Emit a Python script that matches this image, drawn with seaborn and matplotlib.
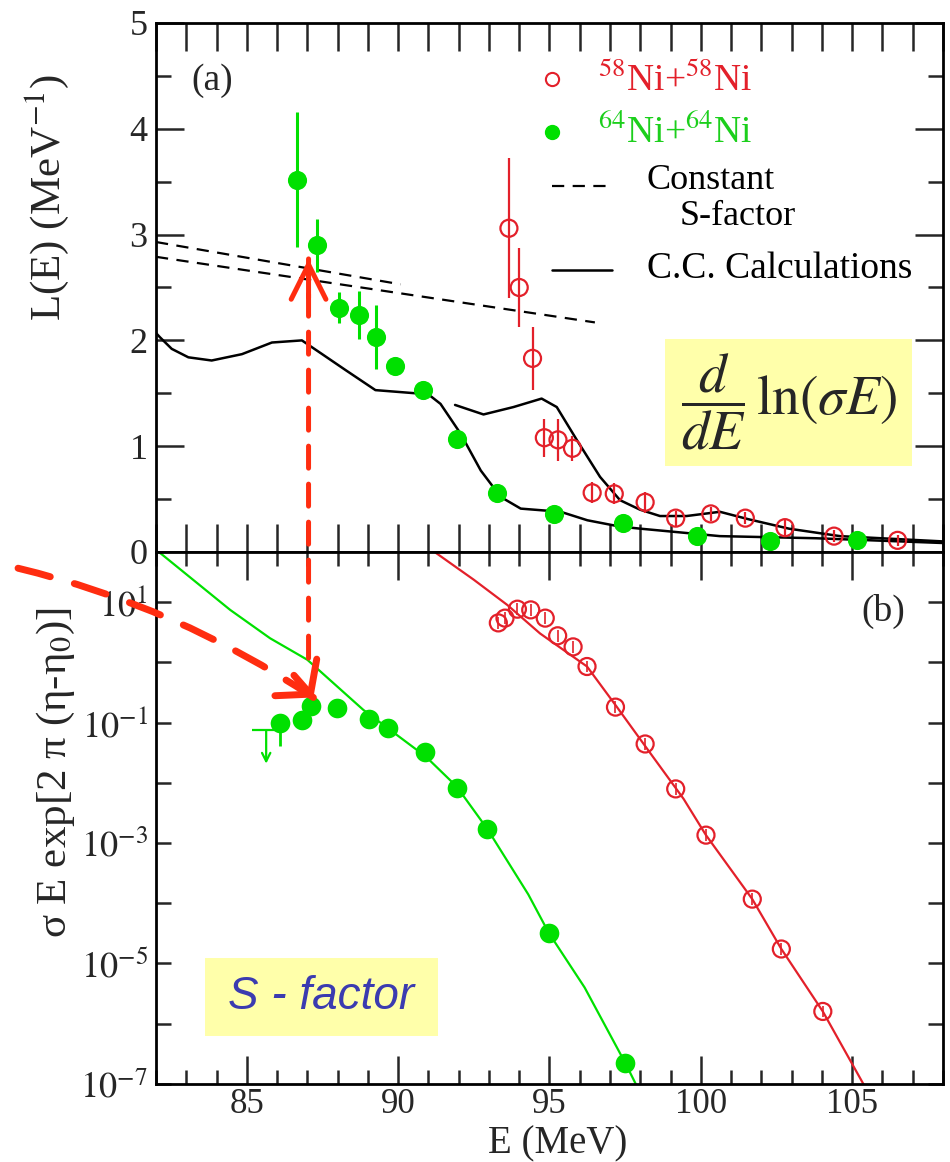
import math
import matplotlib
matplotlib.use("Agg")
import matplotlib.pyplot as plt
import seaborn as sns
from matplotlib.patches import Rectangle, ConnectionPatch
from matplotlib.ticker import MultipleLocator, FixedLocator, FuncFormatter, NullLocator

# ---------------- (a) logarithmic derivative L(E) ----------------
ni64_E_a = [86.67, 87.32, 88.04, 88.70, 89.27, 89.91, 90.83, 91.93, 93.28, 95.15, 97.43, 99.88, 102.30, 105.17]
ni64_L_a = [3.52, 2.90, 2.31, 2.24, 2.03, 1.76, 1.53, 1.07, 0.56, 0.36, 0.27, 0.15, 0.10, 0.11]
ni64_err_a = [0.64, 0.25, 0.15, 0.23, 0.30, 0.08, 0.06, 0.06, 0.05, 0.05, 0.04, 0.04, 0.04, 0.04]

ni58_E_a = [93.66, 94.00, 94.44, 94.83, 95.28, 95.76, 96.41, 97.14, 98.16, 99.17, 100.33, 101.47, 102.78, 104.40, 106.50]
ni58_L_a = [3.06, 2.50, 1.83, 1.08, 1.06, 0.98, 0.56, 0.55, 0.47, 0.32, 0.36, 0.32, 0.23, 0.15, 0.11]
ni58_err_a = [0.66, 0.37, 0.30, 0.18, 0.20, 0.12, 0.10, 0.10, 0.10, 0.07, 0.07, 0.06, 0.07, 0.06, 0.05]

# constant S-factor lines
const_E_upper = [82.0, 90.08]
const_L_upper = [2.93, 2.53]
const_E_lower = [82.0, 96.5]
const_L_lower = [2.79, 2.17]

# coupled-channels calculations
cc64_E = [82.0, 82.13, 82.52, 83.07, 83.84, 84.84, 85.83, 86.82, 87.49, 88.26, 89.25, 90.58, 90.91,
          91.40, 92.06, 92.73, 93.39, 94.05, 95.37, 96.25, 97.33, 98.02, 100.63, 103.8, 108.0]
cc64_L = [2.07, 2.03, 1.92, 1.84, 1.81, 1.87, 1.98, 2.00, 1.87, 1.72, 1.53, 1.50, 1.51,
          1.40, 1.12, 0.77, 0.52, 0.41, 0.38, 0.30, 0.24, 0.22, 0.15, 0.13, 0.085]
cc58_E = [91.88, 92.82, 93.81, 94.74, 95.24, 95.90, 96.67, 97.33, 97.99, 98.65, 99.53, 100.63,
          101.57, 102.92, 104.6, 108.0]
cc58_L = [1.39, 1.30, 1.37, 1.45, 1.37, 1.06, 0.71, 0.49, 0.40, 0.34, 0.34, 0.38,
          0.31, 0.22, 0.15, 0.10]

# ---------------- (b) S-factor representation ----------------
ni64_E_b = [86.10, 86.82, 87.12, 87.98, 89.05, 89.68, 90.88, 91.93, 92.92, 94.98, 97.51]
ni64_S_b = [0.098, 0.112, 0.186, 0.174, 0.115, 0.081, 0.032, 8.3e-3, 1.7e-3, 3.2e-5, 2.2e-7]
ni64_lim_E = 85.64
ni64_lim_S = 0.074

ni58_E_b = [93.31, 93.53, 93.94, 94.38, 94.86, 95.27, 95.78, 96.24, 97.18, 98.16, 99.17,
            100.17, 101.70, 102.66, 104.03]
ni58_S_b = [4.5, 5.4, 7.6, 7.4, 5.4, 2.75, 1.8, 0.85, 0.18, 0.044, 7.9e-3,
            1.35e-3, 1.17e-4, 1.74e-5, 1.6e-6]

fit64_E = [82.0, 84.45, 85.77, 87.0, 88.85, 90.92, 91.93, 92.95, 94.30, 94.98, 96.16, 97.51, 97.85, 98.1]
fit64_S = [74.0, 7.4, 2.5, 1.1, 0.162, 0.027, 8.7e-3, 1.7e-3, 1.4e-4, 3.2e-5, 4.0e-6, 2.2e-7, 1.0e-7, 6.0e-8]
fit58_E = [91.0, 92.50, 93.61, 94.69, 96.24, 97.23, 98.33, 99.43, 100.17, 101.70, 102.66, 104.03, 105.37, 105.6]
fit58_S = [80.0, 23.4, 8.9, 3.0, 0.85, 0.18, 0.031, 5.4e-3, 1.35e-3, 1.17e-4, 1.74e-5, 1.6e-6, 1.0e-7, 6.0e-8]

# ---------------- style ----------------
sns.set_theme(style="ticks")
plt.rcParams["font.family"] = ["Liberation Serif", "DejaVu Serif"]
plt.rcParams["mathtext.fontset"] = "stix"
plt.rcParams["axes.unicode_minus"] = False

GREEN = "#00e000"
RED = "#e3202a"
GREEN_TXT = "#1ccf1c"
ARROW = "#ff2d10"
YELLOW = "#ffffaa"
BLUE_TXT = "#3b3bb0"

fig = plt.figure(figsize=(9.5, 11.62), dpi=100)
ax_a = fig.add_axes([0.1642, 0.52496, 0.82842, 0.45525])
ax_b = fig.add_axes([0.1642, 0.06713, 0.82842, 0.45783])

for ax in (ax_a, ax_b):
    for sp in ax.spines.values():
        sp.set_linewidth(2.0)
        sp.set_color("black")
    ax.set_xlim(82, 108)

# ---- panel (a) ----
ax_a.set_ylim(0, 5)
dash_k = (0, (5.5, 3.8))
sns.lineplot(x=const_E_upper, y=const_L_upper, ax=ax_a, color="black", lw=1.6,
             linestyle=dash_k, sort=False, estimator=None)
sns.lineplot(x=const_E_lower, y=const_L_lower, ax=ax_a, color="black", lw=1.6,
             linestyle=dash_k, sort=False, estimator=None)
sns.lineplot(x=cc64_E, y=cc64_L, ax=ax_a, color="black", lw=1.8, sort=False, estimator=None)
sns.lineplot(x=cc58_E, y=cc58_L, ax=ax_a, color="black", lw=1.8, sort=False, estimator=None)

ax_a.errorbar(ni64_E_a, ni64_L_a, yerr=ni64_err_a, fmt="none", ecolor=GREEN, elinewidth=2.2,
              capsize=0, zorder=3)
ax_a.errorbar(ni58_E_a, ni58_L_a, yerr=ni58_err_a, fmt="none", ecolor=RED, elinewidth=1.6,
              capsize=0, zorder=3)
sns.scatterplot(x=ni64_E_a, y=ni64_L_a, ax=ax_a, s=190, color=GREEN, edgecolor=GREEN,
                linewidth=0, zorder=4)
sns.scatterplot(x=ni58_E_a, y=ni58_L_a, ax=ax_a, s=150, facecolors="none", edgecolor=RED,
                linewidth=1.6, zorder=4)

ax_a.xaxis.set_major_locator(MultipleLocator(1))
ax_a.yaxis.set_major_locator(MultipleLocator(1))
ax_a.yaxis.set_minor_locator(MultipleLocator(0.5))
ax_a.tick_params(axis="x", which="major", direction="in", length=20, width=1.8,
                 top=True, bottom=True, labelbottom=False)
ax_a.tick_params(axis="y", which="major", direction="in", length=20, width=1.8,
                 left=True, right=True, labelsize=26, pad=6)
ax_a.tick_params(axis="y", which="minor", direction="in", length=11, width=1.8,
                 left=True, right=True)
ax_a.set_ylabel(r"L(E) (MeV$^{-1}$)", fontsize=31)
ax_a.yaxis.set_label_coords(-0.108, 0.67)
ax_a.text(0.0712, 0.8906, "(a)", transform=ax_a.transAxes, ha="center", va="center", fontsize=27)

# legend drawn in axes fraction
tA = ax_a.transAxes
ax_a.plot([0.5028], [0.8938], "o", ms=9.5, mfc="none", mec=RED, mew=1.5, transform=tA)
ax_a.text(0.5616, 0.8920, r"$^{58}$Ni+$^{58}$Ni", color=RED, fontsize=27, va="center", transform=tA)
ax_a.plot([0.5028], [0.7930], "o", ms=10, mfc=GREEN, mec=GREEN, transform=tA)
ax_a.text(0.5616, 0.7920, r"$^{64}$Ni+$^{64}$Ni", color=GREEN_TXT, fontsize=27, va="center", transform=tA)
ax_a.plot([0.5028, 0.5790], [0.6925, 0.6925], color="black", lw=1.6, linestyle=dash_k, transform=tA)
ax_a.text(0.6235, 0.7030, "Constant", color="black", fontsize=26, va="center", transform=tA)
ax_a.text(0.6658, 0.6340, "S-factor", color="black", fontsize=26, va="center", transform=tA)
ax_a.plot([0.5028, 0.5790], [0.5340, 0.5340], color="black", lw=1.8, transform=tA)
ax_a.text(0.6235, 0.5360, "C.C. Calculations", color="black", fontsize=27, va="center", transform=tA)

ax_a.add_patch(Rectangle((0.647, 0.162), 0.314, 0.2415, transform=tA, fc=YELLOW, ec="none", zorder=5))
ax_a.text(0.804, 0.283, r"$\dfrac{d}{dE}\,\ln(\sigma E)$", transform=tA, ha="center", va="center",
          fontsize=40, zorder=6)

# ---- panel (b) ----
ax_b.set_yscale("log")
ax_b.set_ylim(1e-7, 10 ** 1.83)
sns.lineplot(x=fit64_E, y=fit64_S, ax=ax_b, color=GREEN, lw=1.6, sort=False, estimator=None)
sns.lineplot(x=fit58_E, y=fit58_S, ax=ax_b, color=RED, lw=1.6, sort=False, estimator=None)

ax_b.errorbar(ni58_E_b, ni58_S_b, yerr=[[s * 0.2 for s in ni58_S_b], [s * 0.25 for s in ni58_S_b]],
              fmt="none", ecolor=RED, elinewidth=1.2, capsize=0, zorder=3)
ax_b.errorbar([ni64_E_b[0]], [ni64_S_b[0]], yerr=[[0.058], [0.0]], fmt="none", ecolor=GREEN,
              elinewidth=2.0, capsize=0, zorder=3)
sns.scatterplot(x=ni64_E_b, y=ni64_S_b, ax=ax_b, s=200, color=GREEN, edgecolor=GREEN,
                linewidth=0, zorder=4)
sns.scatterplot(x=ni58_E_b, y=ni58_S_b, ax=ax_b, s=150, facecolors="none", edgecolor=RED,
                linewidth=1.6, zorder=4)

# upper limit for the lowest-energy point
ax_b.hlines(ni64_lim_S, ni64_lim_E - 0.47, ni64_lim_E + 0.3, color=GREEN, lw=1.6)
ax_b.annotate("", xy=(ni64_lim_E, ni64_lim_S * 0.28), xytext=(ni64_lim_E, ni64_lim_S),
              arrowprops=dict(arrowstyle="->,head_length=0.5,head_width=0.25", color=GREEN,
                              lw=1.6, mutation_scale=12, shrinkA=0, shrinkB=0))


def decade_label(v, pos):
    k = round(math.log10(v))
    return r"$10^{%d}$" % k if k % 2 else ""


ax_b.xaxis.set_major_locator(MultipleLocator(5))
ax_b.xaxis.set_minor_locator(MultipleLocator(1))
ax_b.tick_params(axis="x", which="major", direction="in", length=20, width=1.8,
                 top=True, bottom=True, labelsize=25, pad=3)
ax_b.tick_params(axis="x", which="minor", direction="in", length=10, width=1.8,
                 top=True, bottom=True)
ax_b.yaxis.set_major_locator(FixedLocator([10.0 ** k for k in range(-7, 2)]))
ax_b.yaxis.set_minor_locator(NullLocator())
ax_b.yaxis.set_major_formatter(FuncFormatter(decade_label))
ax_b.tick_params(axis="y", which="major", direction="in", length=11, width=1.8,
                 left=True, right=True, labelsize=26, pad=6)
ax_b.set_xlabel("E (MeV)", fontsize=28)
ax_b.xaxis.set_label_coords(0.511, -0.078)
ax_b.set_ylabel(r"σ E exp[2 π (η-η$_0$)]", fontsize=31)
ax_b.yaxis.set_label_coords(-0.100, 0.586)
ax_b.text(0.9238, 0.889, "(b)", transform=ax_b.transAxes, ha="center", va="center", fontsize=27)

tB = ax_b.transAxes
ax_b.add_patch(Rectangle((0.0623, 0.0902), 0.296, 0.1466, transform=tB, fc=YELLOW, ec="none", zorder=5))
ax_b.text(0.210, 0.163, "S - factor", transform=tB, ha="center", va="center", fontsize=33,
          family="Liberation Sans", style="italic", color=BLUE_TXT, zorder=6)

# ---- red guide arrows ----
arrow_E = 87.04
fig.add_artist(ConnectionPatch(xyA=(arrow_E, 1.17), coordsA=ax_b.transData,
                               xyB=(arrow_E, 2.77), coordsB=ax_a.transData,
                               arrowstyle="-", color=ARROW, lw=3.6,
                               linestyle=(0, (4.4, 3.2)), zorder=10))
ax_a.annotate("", xy=(arrow_E, 2.77), xytext=(0, -28), textcoords="offset points",
              arrowprops=dict(arrowstyle="->,head_length=0.5,head_width=0.25", color=ARROW,
                              lw=3.6, mutation_scale=50, shrinkA=0, shrinkB=0),
              annotation_clip=False, zorder=10)

tip_E, tip_S = 87.2, 0.26
fig.add_artist(ConnectionPatch(xyA=(0.019, 0.511), coordsA="figure fraction",
                               xyB=(tip_E, tip_S), coordsB=ax_b.transData,
                               connectionstyle="arc3,rad=-0.09", arrowstyle="-",
                               color=ARROW, lw=5, linestyle=(0, (4.8, 3.6)), zorder=10))
ax_b.annotate("", xy=(tip_E, tip_S), xytext=(-14, 16), textcoords="offset points",
              arrowprops=dict(arrowstyle="->,head_length=0.4,head_width=0.5", color=ARROW,
                              lw=5, mutation_scale=40, shrinkA=0, shrinkB=0),
              annotation_clip=False, zorder=10)

fig.savefig("out.png", dpi=100)
